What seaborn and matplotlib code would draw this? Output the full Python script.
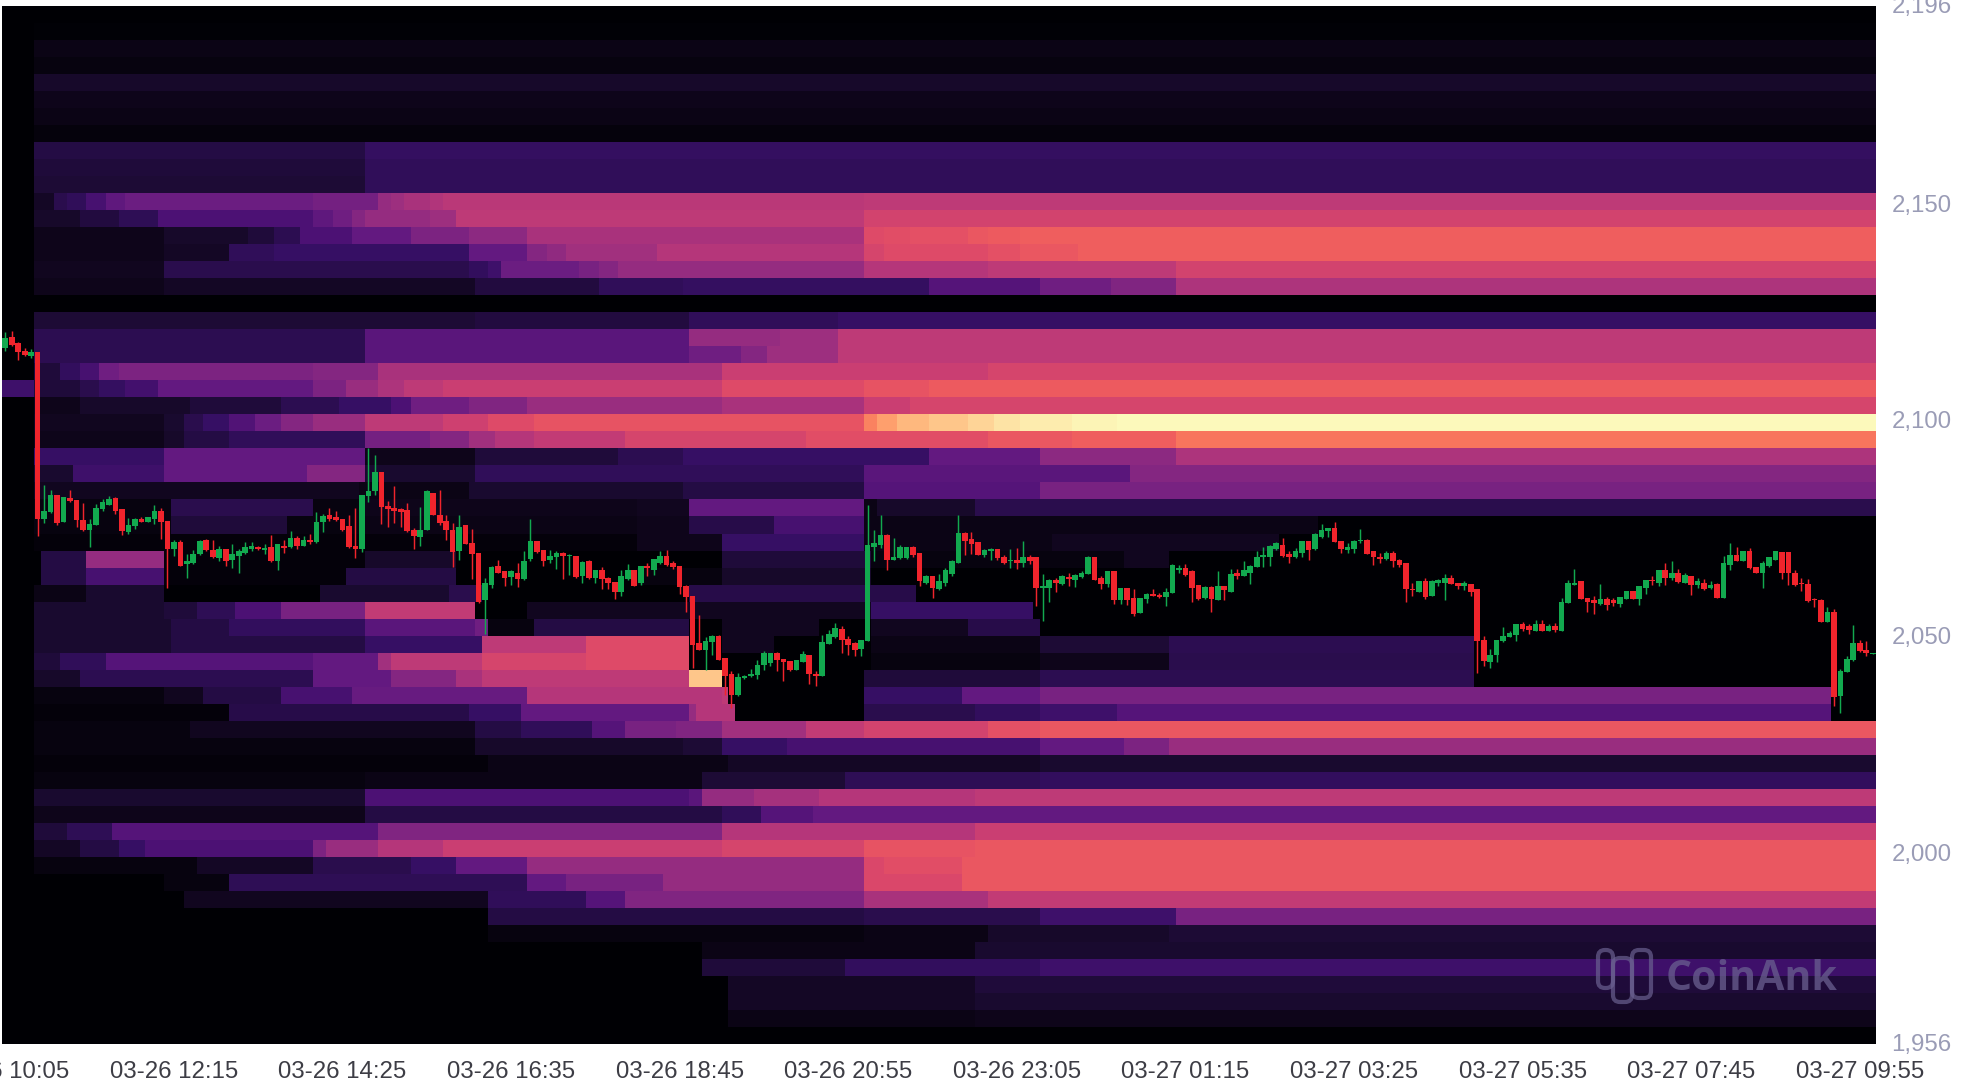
import numpy as np
import matplotlib
matplotlib.use("Agg")
import matplotlib.pyplot as plt
from matplotlib.colors import LinearSegmentedColormap
from matplotlib.patches import FancyBboxPatch
from matplotlib.transforms import ScaledTranslation
import seaborn as sns

# ---- candles (price) ----
opens = [2116.9,2119.4,2118.0,2116.3,2115.1,2116.1,2077.4,2078.9,2083.0,2076.6,2082.3,2081.7,2077.1,2074.9,2076.1,2079.6,2080.7,2082.3,2079.7,2074.3,2075.7,2077.4,2076.7,2077.3,2079.2,2077.0,2070.5,2072.0,2066.9,2067.3,2069.2,2072.5,2070.3,2068.4,2070.5,2068.0,2068.9,2069.6,2070.5,2071.0,2070.3,2071.0,2067.6,2071.1,2070.9,2073.0,2071.2,2072.5,2072.0,2076.6,
2078.2,2077.9,2077.4,2075.7,2071.2,2070.5,2082.6,2083.8,2088.2,2080.5,2079.9,2079.8,2079.4,2074.9,2073.2,2074.8,2083.5,2078.4,2076.9,2074.9,2069.9,2075.9,2071.9,2069.5,2058.6,2062.2,2066.5,2065.3,2064.0,2064.9,2063.4,2068.2,2072.2,2070.2,2067.9,2068.6,2069.5,2068.8,2068.9,2064.2,2067.6,2063.8,2065.5,2063.8,2062.8,2060.5,2063.4,2065.5,2062.5,
2066.6,2065.5,2067.3,2068.9,2067.3,2066.6,2062.0,2059.5,2048.7,2047.2,2048.9,2050.4,2045.3,2041.6,2036.6,2040.6,2041.0,2041.4,2043.7,2044.0,2046.4,2045.0,2044.6,2042.4,2044.3,2046.0,2041.6,2041.2,2048.6,2050.1,2052.0,2049.6,2048.7,2047.3,2049.1,2071.0,2071.4,2073.7,2067.8,2068.3,2068.3,2071.0,2069.5,2062.7,2064.3,2061.2,2062.7,2064.7,2067.2,2074.1,2072.7,2072.0,
2069.1,2070.1,2070.4,2068.7,2067.6,2068.0,2067.3,2068.7,2068.7,2061.4,2061.4,2063.3,2062.4,2064.0,2063.3,2064.0,2064.7,2068.7,2063.7,2062.4,2065.3,2058.7,2061.4,2059.1,2055.6,2058.9,2060.1,2059.9,2059.3,2060.3,2065.5,2066.0,2065.3,2062.2,2059.1,2061.6,2058.7,2061.8,2060.6,2064.9,2064.3,2065.0,2066.3,2068.6,2068.7,2070.4,2071.4,2069.3,2068.6,2069.6,2072.2,
2070.4,2073.2,2074.5,2075.3,2072.4,2070.3,2070.4,2072.2,2072.6,2069.9,2068.7,2068.1,2069.6,2067.8,2067.2,2061.2,2060.6,2063.0,2059.5,2062.7,2062.6,2063.7,2062.6,2062.0,2062.4,2061.2,2049.5,2044.3,2046.0,2049.1,2050.1,2050.6,2053.0,2052.6,2051.6,2053.1,2051.6,2052.7,2051.6,2058.0,2062.2,2063.0,2059.1,2058.6,
2057.7,2058.9,2058.6,2057.7,2059.0,2060.8,2059.0,2061.4,2063.3,2062.6,2065.7,2063.7,2065.0,2062.7,2064.3,2062.2,2062.6,2061.4,2062.4,2059.1,2066.8,2069.1,2067.6,2069.9,2066.4,2064.9,2066.6,2068.0,2069.7,2069.7,2064.9,2062.7,2062.4,2058.9,2058.7,2053.6,2056.0,2036.4,2042.0,2044.7,2048.7,2047.0,2046.2]
closes = [2119.2,2117.6,2116.1,2115.3,2116.1,2077.4,2079.3,2083.0,2076.5,2082.4,2081.5,2077.1,2074.9,2076.3,2079.9,2081.3,2082.0,2079.2,2074.6,2076.1,2077.3,2076.8,2077.8,2079.2,2076.6,2070.5,2072.0,2066.6,2067.6,2069.4,2072.2,2070.2,2068.6,2070.5,2067.6,2069.4,2069.9,2071.0,2071.1,2070.5,2070.7,2067.6,2071.5,2070.7,2073.0,2071.2,2072.6,2072.0,2076.6,2078.0,
2077.4,2077.2,2074.8,2070.9,2070.5,2083.0,2083.8,2088.2,2080.2,2079.7,2079.2,2079.1,2074.5,2073.4,2074.9,2083.8,2078.4,2076.5,2074.8,2069.7,2075.5,2071.5,2069.2,2058.2,2062.5,2066.3,2064.9,2063.8,2065.3,2063.4,2067.6,2072.2,2069.7,2067.6,2068.8,2069.5,2068.8,2069.0,2064.0,2067.4,2063.8,2065.5,2063.4,2062.6,2060.5,2064.3,2065.5,2062.0,2066.6,
2066.0,2068.1,2068.9,2066.8,2066.3,2061.6,2059.3,2048.3,2047.0,2049.1,2050.4,2044.7,2041.2,2036.6,2040.9,2041.2,2041.6,2043.7,2046.3,2046.3,2044.7,2044.3,2042.4,2044.9,2046.1,2041.6,2041.2,2048.9,2050.9,2052.2,2049.3,2048.3,2047.2,2049.3,2071.4,2071.8,2073.7,2067.8,2068.6,2071.0,2070.9,2069.1,2063.0,2064.3,2061.4,2063.0,2065.6,2067.6,2074.1,2072.4,2071.6,2069.1,
2070.3,2070.4,2068.3,2067.2,2068.0,2067.3,2068.6,2067.6,2061.4,2062.0,2063.3,2062.7,2064.3,2063.6,2064.5,2065.0,2068.7,2063.2,2062.4,2065.3,2058.7,2061.4,2058.6,2055.5,2059.1,2060.1,2059.6,2059.3,2060.6,2066.8,2066.0,2064.5,2061.4,2058.9,2061.6,2058.9,2061.8,2060.9,2064.7,2064.3,2065.5,2066.6,2068.7,2069.1,2071.2,2071.8,2068.9,2068.6,2069.9,2072.2,2070.3,
2073.9,2074.9,2075.3,2072.0,2070.4,2071.0,2072.4,2072.6,2069.3,2068.6,2068.1,2069.5,2067.6,2066.8,2061.2,2060.9,2063.0,2059.3,2063.0,2063.3,2063.7,2062.4,2062.0,2062.6,2060.6,2049.1,2044.5,2046.0,2049.5,2050.4,2051.0,2053.0,2052.0,2051.8,2053.2,2051.6,2052.7,2051.8,2058.3,2062.6,2062.7,2058.9,2058.3,2058.0,
2058.9,2057.6,2058.0,2059.3,2060.8,2059.0,2061.8,2063.2,2063.0,2065.7,2063.7,2065.0,2062.8,2064.5,2062.2,2063.0,2061.3,2062.2,2059.1,2067.2,2069.1,2067.6,2069.9,2066.0,2064.9,2067.2,2068.7,2069.9,2065.0,2065.0,2062.2,2062.4,2058.5,2058.6,2053.6,2056.0,2036.3,2042.2,2045.0,2048.7,2046.8,2046.3,2046.4]
highs = [2120.7,2120.9,2118.2,2116.9,2116.6,2116.1,2085.3,2084.2,2083.0,2082.4,2084.0,2081.7,2081.2,2077.3,2080.9,2082.0,2082.6,2082.4,2079.7,2077.6,2077.6,2077.9,2077.8,2080.6,2079.9,2077.0,2072.5,2072.6,2069.2,2070.3,2072.5,2072.8,2072.5,2071.1,2070.5,2071.5,2070.5,2072.0,2072.0,2071.1,2071.7,2073.6,2071.7,2072.6,2074.6,2073.4,2073.4,2074.0,2078.9,2078.6,
2079.9,2079.2,2077.4,2078.4,2079.9,2083.0,2093.8,2092.2,2088.2,2081.5,2085.1,2079.9,2081.2,2075.3,2080.2,2084.0,2083.5,2084.2,2078.4,2076.5,2078.2,2076.1,2075.1,2069.5,2063.8,2066.6,2068.0,2065.3,2065.5,2067.1,2069.9,2077.4,2072.2,2070.3,2070.2,2069.9,2069.7,2069.2,2068.9,2067.6,2068.0,2065.7,2066.3,2064.0,2062.8,2065.5,2066.9,2065.5,2066.6,
2067.2,2068.1,2069.9,2070.3,2067.6,2066.6,2062.2,2059.6,2055.3,2050.1,2050.6,2050.6,2045.3,2042.2,2041.8,2041.4,2042.6,2044.9,2046.8,2046.4,2046.6,2045.0,2044.6,2044.9,2046.8,2046.0,2042.2,2050.6,2051.8,2053.3,2052.6,2050.3,2048.9,2049.3,2080.6,2074.9,2078.3,2073.9,2073.0,2071.4,2071.0,2071.2,2069.5,2064.5,2064.3,2064.7,2066.0,2067.8,2078.3,2074.3,2074.3,2072.0,
2070.4,2070.6,2070.4,2069.1,2070.4,2070.6,2072.3,2069.1,2068.7,2064.7,2063.5,2063.7,2064.5,2064.9,2064.7,2065.3,2068.9,2068.7,2064.3,2065.3,2065.3,2061.4,2061.4,2061.2,2059.1,2060.3,2061.2,2060.3,2061.4,2067.0,2066.8,2067.0,2065.5,2062.2,2062.0,2062.0,2065.4,2061.8,2065.8,2065.8,2067.6,2066.8,2070.1,2070.9,2071.4,2072.0,2073.0,2069.9,2070.6,2072.2,2072.2,
2074.1,2076.3,2075.3,2076.6,2072.4,2071.8,2072.6,2075.0,2072.7,2069.9,2069.6,2069.9,2069.9,2068.1,2067.2,2062.6,2063.1,2063.7,2063.3,2063.5,2064.7,2064.5,2062.7,2063.0,2062.4,2061.2,2050.4,2047.3,2049.5,2052.4,2051.6,2053.2,2053.5,2053.2,2054.0,2054.0,2053.0,2053.3,2059.1,2063.3,2065.8,2063.0,2059.1,2059.6,
2062.4,2059.3,2059.1,2059.3,2060.8,2060.8,2062.0,2063.3,2064.1,2065.7,2067.2,2067.6,2065.8,2064.9,2064.3,2063.7,2063.5,2063.0,2062.6,2068.9,2071.8,2070.9,2069.9,2070.7,2066.4,2067.6,2068.7,2070.1,2069.7,2069.7,2065.5,2063.7,2063.5,2059.1,2058.9,2057.0,2056.6,2042.7,2045.7,2052.8,2049.3,2049.1,2046.4]
lows = [2116.3,2117.4,2114.2,2115.1,2114.6,2073.4,2076.5,2078.8,2075.9,2076.6,2081.3,2075.6,2074.6,2071.0,2076.1,2079.2,2080.7,2078.6,2073.8,2074.0,2075.1,2076.6,2076.7,2076.3,2072.8,2061.5,2068.8,2066.6,2063.8,2066.9,2069.0,2069.9,2068.4,2067.6,2066.6,2066.1,2064.9,2069.4,2069.9,2070.3,2069.4,2067.4,2065.6,2069.6,2070.7,2070.5,2071.1,2071.5,2071.9,2074.3,
2076.9,2076.9,2074.5,2070.7,2068.4,2069.7,2081.3,2083.0,2076.3,2075.5,2076.5,2075.5,2074.3,2070.5,2071.2,2074.8,2078.2,2075.9,2072.6,2066.3,2068.0,2071.5,2063.5,2058.0,2050.9,2061.5,2064.8,2061.9,2062.2,2061.7,2063.2,2067.6,2069.5,2066.5,2067.1,2065.9,2063.4,2064.5,2063.8,2062.6,2063.5,2062.5,2061.1,2061.1,2058.9,2059.5,2063.2,2061.9,2062.2,
2064.3,2064.5,2067.0,2066.6,2065.8,2060.1,2056.0,2042.9,2047.0,2042.4,2046.0,2044.7,2036.6,2033.7,2036.4,2040.4,2040.9,2040.4,2042.4,2043.5,2042.2,2039.9,2042.2,2042.4,2044.3,2039.3,2038.7,2041.0,2048.5,2049.9,2046.4,2046.0,2045.8,2045.6,2049.1,2067.6,2070.6,2065.5,2067.8,2068.1,2068.1,2068.7,2061.8,2062.4,2059.1,2061.0,2062.0,2064.1,2067.2,2069.1,2069.3,2069.1,
2068.7,2067.8,2068.0,2067.0,2066.0,2065.9,2066.4,2067.0,2057.3,2053.7,2058.1,2060.6,2062.2,2061.8,2061.6,2063.7,2064.7,2063.2,2061.2,2061.6,2057.8,2057.8,2057.6,2054.9,2055.6,2058.0,2059.5,2059.2,2057.2,2060.3,2065.0,2064.3,2058.3,2058.7,2059.0,2055.8,2058.6,2058.7,2060.6,2063.5,2064.3,2062.4,2066.3,2066.3,2066.6,2070.3,2068.7,2067.3,2068.3,2068.6,2068.0,
2070.3,2073.0,2073.2,2072.0,2069.6,2069.5,2069.5,2071.8,2069.3,2066.8,2067.3,2068.0,2066.2,2066.4,2058.3,2059.5,2060.6,2058.9,2059.5,2061.8,2058.7,2062.4,2061.2,2061.0,2059.6,2041.8,2043.5,2043.0,2044.3,2048.9,2050.0,2049.1,2051.6,2050.8,2051.6,2051.5,2051.6,2051.3,2051.6,2057.9,2062.1,2058.9,2056.0,2055.5,
2057.6,2056.3,2057.3,2057.0,2058.9,2059.0,2057.6,2060.1,2062.2,2062.0,2062.2,2063.3,2062.7,2062.6,2059.9,2061.4,2061.0,2061.2,2059.1,2059.1,2065.5,2067.6,2067.6,2065.8,2064.9,2061.4,2066.4,2067.8,2063.6,2062.2,2062.0,2060.7,2058.3,2057.0,2053.5,2053.5,2034.1,2032.6,2042.0,2044.5,2046.7,2045.7,2046.2]

# ---- liquidation heat, one list per price band from the top: (first candle, intensity) ----
band_00 = [(0, .0)]
band_01 = [(0, .0), (5, .005)]
band_02 = [(0, .0), (5, .03)]
band_03 = [(0, .0), (5, .02)]
band_04 = [(0, .0), (5, .07)]
band_05 = [(0, .0), (5, .04)]
band_06 = [(0, .0), (5, .03)]
band_07 = [(0, .0), (5, .015)]
band_08 = [(0, .0), (5, .12), (56, .19)]
band_09 = [(0, .0), (5, .10), (56, .17)]
band_10 = [(0, .0), (5, .09), (56, .17)]
band_11 = [(0, .0), (5, .06), (8, .14), (10, .17), (13, .24), (16, .29), (19, .32), (48, .34), (58, .42), (60, .44), (62, .47), (66, .49), (68, .51), (133, .52)]
band_12 = [(0, .0), (5, .07), (12, .11), (18, .16), (24, .25), (48, .29), (51, .33), (54, .38), (56, .42), (66, .44), (70, .52), (133, .57)]
band_13 = [(0, .0), (5, .04), (25, .07), (38, .10), (42, .15), (46, .25), (54, .30), (63, .36), (72, .40), (81, .47), (133, .60), (136, .61), (140, .62), (149, .64), (152, .65), (157, .66)]
band_14 = [(0, .0), (5, .04), (25, .06), (35, .17), (42, .20), (72, .30), (81, .38), (84, .41), (87, .45), (101, .50), (133, .58), (136, .60), (152, .62), (157, .64), (166, .66)]
band_15 = [(0, .0), (5, .05), (25, .14), (72, .18), (75, .22), (77, .32), (89, .35), (92, .38), (95, .42), (133, .50), (152, .52), (181, .57)]
band_16 = [(0, .0), (5, .04), (25, .06), (73, .11), (92, .17), (105, .19), (143, .27), (160, .33), (171, .37), (181, .48)]
band_17 = [(0, .0)]
band_18 = [(0, .0), (5, .09), (73, .11), (106, .17), (129, .20)]
band_19 = [(0, .0), (5, .15), (56, .28), (106, .42), (120, .44), (129, .52)]
band_20 = [(0, .0), (5, .15), (56, .28), (106, .33), (114, .38), (118, .44), (129, .52)]
band_21 = [(0, .0), (5, .10), (9, .18), (12, .24), (15, .33), (18, .36), (48, .38), (58, .47), (111, .55), (152, .58)]
band_22 = [(0, .22), (5, .10), (12, .14), (15, .19), (19, .23), (24, .30), (48, .36), (53, .43), (58, .48), (62, .52), (68, .55), (111, .60), (133, .63), (143, .65)]
band_23 = [(0, .0), (5, .04), (12, .07), (29, .10), (43, .15), (52, .20), (60, .25), (63, .33), (72, .37), (81, .43), (111, .47), (133, .55), (140, .58)]
band_24 = [(0, .0), (5, .05), (25, .08), (28, .14), (31, .20), (35, .26), (39, .32), (43, .38), (48, .43), (56, .52), (68, .56), (75, .60), (82, .63), (133, .74), (135, .80), (138, .85), (143, .88), (149, .91), (153, .94), (157, .96), (165, .98), (172, .99)]
band_25 = [(0, .0), (5, .04), (25, .07), (28, .12), (35, .17), (56, .34), (66, .38), (72, .45), (76, .50), (82, .53), (96, .58), (124, .61), (152, .64), (165, .66), (181, .71)]
band_26 = [(0, .0), (5, .20), (25, .30), (56, .04), (73, .10), (95, .15), (105, .20), (143, .30), (160, .40), (181, .48)]
band_27 = [(0, .0), (5, .08), (11, .22), (25, .30), (47, .38), (56, .08), (73, .17), (133, .28), (174, .38)]
band_28 = [(0, .0), (5, .05), (55, .03), (72, .08), (105, .12), (133, .27), (160, .35)]
band_29 = [(0, .0), (5, .02), (26, .14), (48, .02), (56, .04), (98, .05), (106, .30), (133, .03), (135, .07), (150, .14)]
band_30 = [(0, .0), (5, .02), (26, .10), (44, .02), (56, .03), (98, .04), (106, .13), (119, .24), (133, .03), (203, .0)]
band_31 = [(0, .0), (5, .01), (56, .01), (98, .04), (111, .20), (133, .03), (162, .05), (197, .0)]
band_32 = [(0, .0), (6, .12), (13, .42), (25, .01), (56, .07), (70, .0), (111, .10), (134, .02), (173, .05), (180, .0)]
band_33 = [(0, .0), (6, .12), (13, .24), (25, .01), (53, .12), (70, .0), (98, .02), (111, .07), (134, .0)]
band_34 = [(0, .0), (5, .03), (13, .08), (25, .0), (49, .08), (69, .14), (74, .0), (106, .13), (141, .0)]
band_35 = [(0, .0), (5, .08), (25, .10), (30, .16), (36, .25), (43, .35), (56, .53), (73, .0), (81, .05), (134, .20), (159, .0)]
band_36 = [(0, .0), (5, .08), (26, .12), (35, .18), (56, .28), (73, .33), (75, .02), (82, .12), (106, .0), (111, .05), (126, .0), (134, .05), (149, .13), (160, .0)]
band_37 = [(0, .0), (5, .08), (26, .12), (56, .20), (74, .52), (90, .60), (106, .0), (111, .05), (119, .0), (134, .03), (160, .09), (180, .15), (227, .0)]
band_38 = [(0, .0), (5, .10), (9, .17), (16, .27), (48, .30), (58, .45), (60, .52), (74, .58), (90, .60), (106, .0), (134, .02), (160, .04), (180, .14), (227, .0)]
band_39 = [(0, .0), (5, .07), (12, .15), (48, .30), (60, .38), (70, .47), (74, .52), (106, .88), (111, .0), (133, .10), (160, .15), (227, .0)]
band_40 = [(0, .0), (5, .02), (25, .05), (31, .12), (43, .24), (54, .31), (81, .50), (111, .52), (112, .0), (133, .20), (148, .30), (160, .35), (282, .0)]
band_41 = [(0, .0), (5, .01), (35, .13), (72, .20), (80, .30), (106, .42), (107, .50), (113, .0), (133, .14), (150, .18), (160, .22), (172, .27), (282, .0)]
band_42 = [(0, .0), (5, .02), (29, .05), (73, .12), (80, .17), (91, .27), (96, .35), (104, .37), (111, .45), (124, .53), (133, .57), (152, .62), (160, .64)]
band_43 = [(0, .0), (5, .02), (73, .07), (105, .09), (111, .20), (121, .24), (160, .30), (173, .36), (180, .43)]
band_44 = [(0, .0), (5, .01), (75, .03), (112, .06), (160, .08)]
band_45 = [(0, .0), (5, .02), (56, .03), (108, .09), (130, .16), (160, .18)]
band_46 = [(0, .0), (5, .08), (56, .25), (106, .28), (108, .42), (116, .46), (126, .50), (150, .52)]
band_47 = [(0, .0), (5, .04), (56, .12), (111, .17), (117, .27), (125, .30)]
band_48 = [(0, .0), (5, .10), (10, .16), (17, .27), (58, .37), (111, .50), (150, .55)]
band_49 = [(0, .0), (5, .06), (12, .12), (18, .20), (22, .25), (48, .36), (50, .43), (58, .50), (68, .55), (111, .58), (133, .63), (150, .64)]
band_50 = [(0, .0), (5, .02), (30, .06), (48, .14), (63, .20), (70, .30), (81, .42), (133, .59), (136, .61), (148, .64)]
band_51 = [(0, .0), (25, .02), (35, .16), (81, .30), (87, .35), (102, .42), (133, .59), (148, .64)]
band_52 = [(0, .0), (28, .05), (75, .17), (90, .27), (96, .37), (133, .47), (152, .53)]
band_53 = [(0, .0), (75, .12), (133, .14), (160, .22), (181, .35)]
band_54 = [(0, .0), (75, .02), (133, .03), (152, .07), (180, .09)]
band_55 = [(0, .0), (108, .03), (150, .08)]
band_56 = [(0, .0), (108, .10), (130, .18), (160, .22)]
band_57 = [(0, .0), (112, .06), (150, .10)]
band_58 = [(0, .0), (112, .06), (150, .08)]
band_59 = [(0, .0), (112, .03), (150, .04)]
band_60 = [(0, .0)]

y_ticks = [2196, 2150, 2100, 2050, 2000, 1956]
x_tick_labels = ["03-26 10:05", "03-26 12:15", "03-26 14:25", "03-26 16:35", "03-26 18:45", "03-26 20:55",
                 "03-26 23:05", "03-27 01:15", "03-27 03:25", "03-27 05:35", "03-27 07:45", "03-27 09:55"]
x_tick_every = 26

bands = [band_00, band_01, band_02, band_03, band_04, band_05, band_06, band_07, band_08, band_09,
         band_10, band_11, band_12, band_13, band_14, band_15, band_16, band_17, band_18, band_19,
         band_20, band_21, band_22, band_23, band_24, band_25, band_26, band_27, band_28, band_29,
         band_30, band_31, band_32, band_33, band_34, band_35, band_36, band_37, band_38, band_39,
         band_40, band_41, band_42, band_43, band_44, band_45, band_46, band_47, band_48, band_49,
         band_50, band_51, band_52, band_53, band_54, band_55, band_56, band_57, band_58, band_59, band_60]

o, h, l, c = map(np.array, (opens, highs, lows, closes))
n = len(o)
heat = np.zeros((len(bands), n))
for r, runs in enumerate(bands):
    for (start, val), nxt in zip(runs, runs[1:] + [(n, None)]):
        heat[r, start:nxt[0]] = val

# magma, with a slightly warmer low end
magma = matplotlib.colormaps['magma']
anchors = [(0, '#000004'), (.03, '#0b0415'), (.08, '#1a0a30'), (.14, '#2a0d4e'), (.20, '#360f64'), (.25, '#4c1174')]
anchors += [(v, magma(v)) for v in np.arange(.30, 1.0001, .05)]
anchors[-1] = (1.0, magma(1.0))
heat_cmap = LinearSegmentedColormap.from_list('heat', anchors, N=512)

W, H = 1970, 1092
L, R, T, B = 2, 1876, 6, 1044
plt.rcParams['font.family'] = ['Liberation Sans', 'DejaVu Sans']
fig = plt.figure(figsize=(W / 100, H / 100), dpi=100, facecolor='white')
pos = [L / W, 1 - B / H, (R - L) / W, (B - T) / H]

ax = fig.add_axes(pos)
sns.heatmap(heat, ax=ax, cmap=heat_cmap, vmin=0, vmax=1, cbar=False, xticklabels=False, yticklabels=False)

axp = fig.add_axes(pos, facecolor='none')
axp.set_xlim(-0.5, n - 0.5)
axp.set_ylim(1956, 2196)
idx = np.arange(n)
up = c >= o
GREEN, RED = '#12a94f', '#f0242c'
for mask, col in ((up, GREEN), (~up, RED)):
    axp.vlines(idx[mask], l[mask], h[mask], color=col, lw=1.05, zorder=3)
    axp.bar(idx[mask], np.maximum(np.abs(c - o)[mask], 0.25), bottom=np.minimum(o, c)[mask],
            width=0.87, color=col, linewidth=0, zorder=4)

axp.yaxis.tick_right()
axp.set_yticks(y_ticks)
axp.set_yticklabels([f"{v:,}" for v in y_ticks], color='#9a9cb6', fontsize=17.3)
axp.set_xticks(idx[::x_tick_every])
axp.set_xticklabels(x_tick_labels, color='#3d3d45', fontsize=17.3)
axp.tick_params(axis='both', length=0)
axp.tick_params(axis='y', pad=11)
axp.tick_params(axis='x', pad=12.5)
up_2px = ScaledTranslation(0, 1.5 / 100, fig.dpi_scale_trans)
for lab in axp.get_yticklabels():
    lab.set_transform(lab.get_transform() + up_2px)
for s in axp.spines.values():
    s.set_visible(False)

# watermark, on an overlay measured in picture pixels
wm = '#6a6090'
axw = fig.add_axes([0, 0, 1, 1], facecolor='none')
axw.set_xlim(0, W)
axw.set_ylim(H, 0)
axw.axis('off')
axw.text(1666, 980, "CoinAnk", color=wm, alpha=0.75, fontsize=29.5, fontweight='bold',
         family=['Open Sans', 'DejaVu Sans'], va='center', ha='left')
for x0, x1, y0, y1 in ((1598, 1613, 950, 988), (1613, 1632, 958, 1002), (1632, 1651, 950, 998)):
    axw.add_patch(FancyBboxPatch((x0, y0), x1 - x0, y1 - y0, boxstyle="round,pad=0,rounding_size=7",
                                 fill=False, edgecolor=wm, alpha=0.7, linewidth=3.0))

fig.savefig('out.png', dpi=100, facecolor='white')
